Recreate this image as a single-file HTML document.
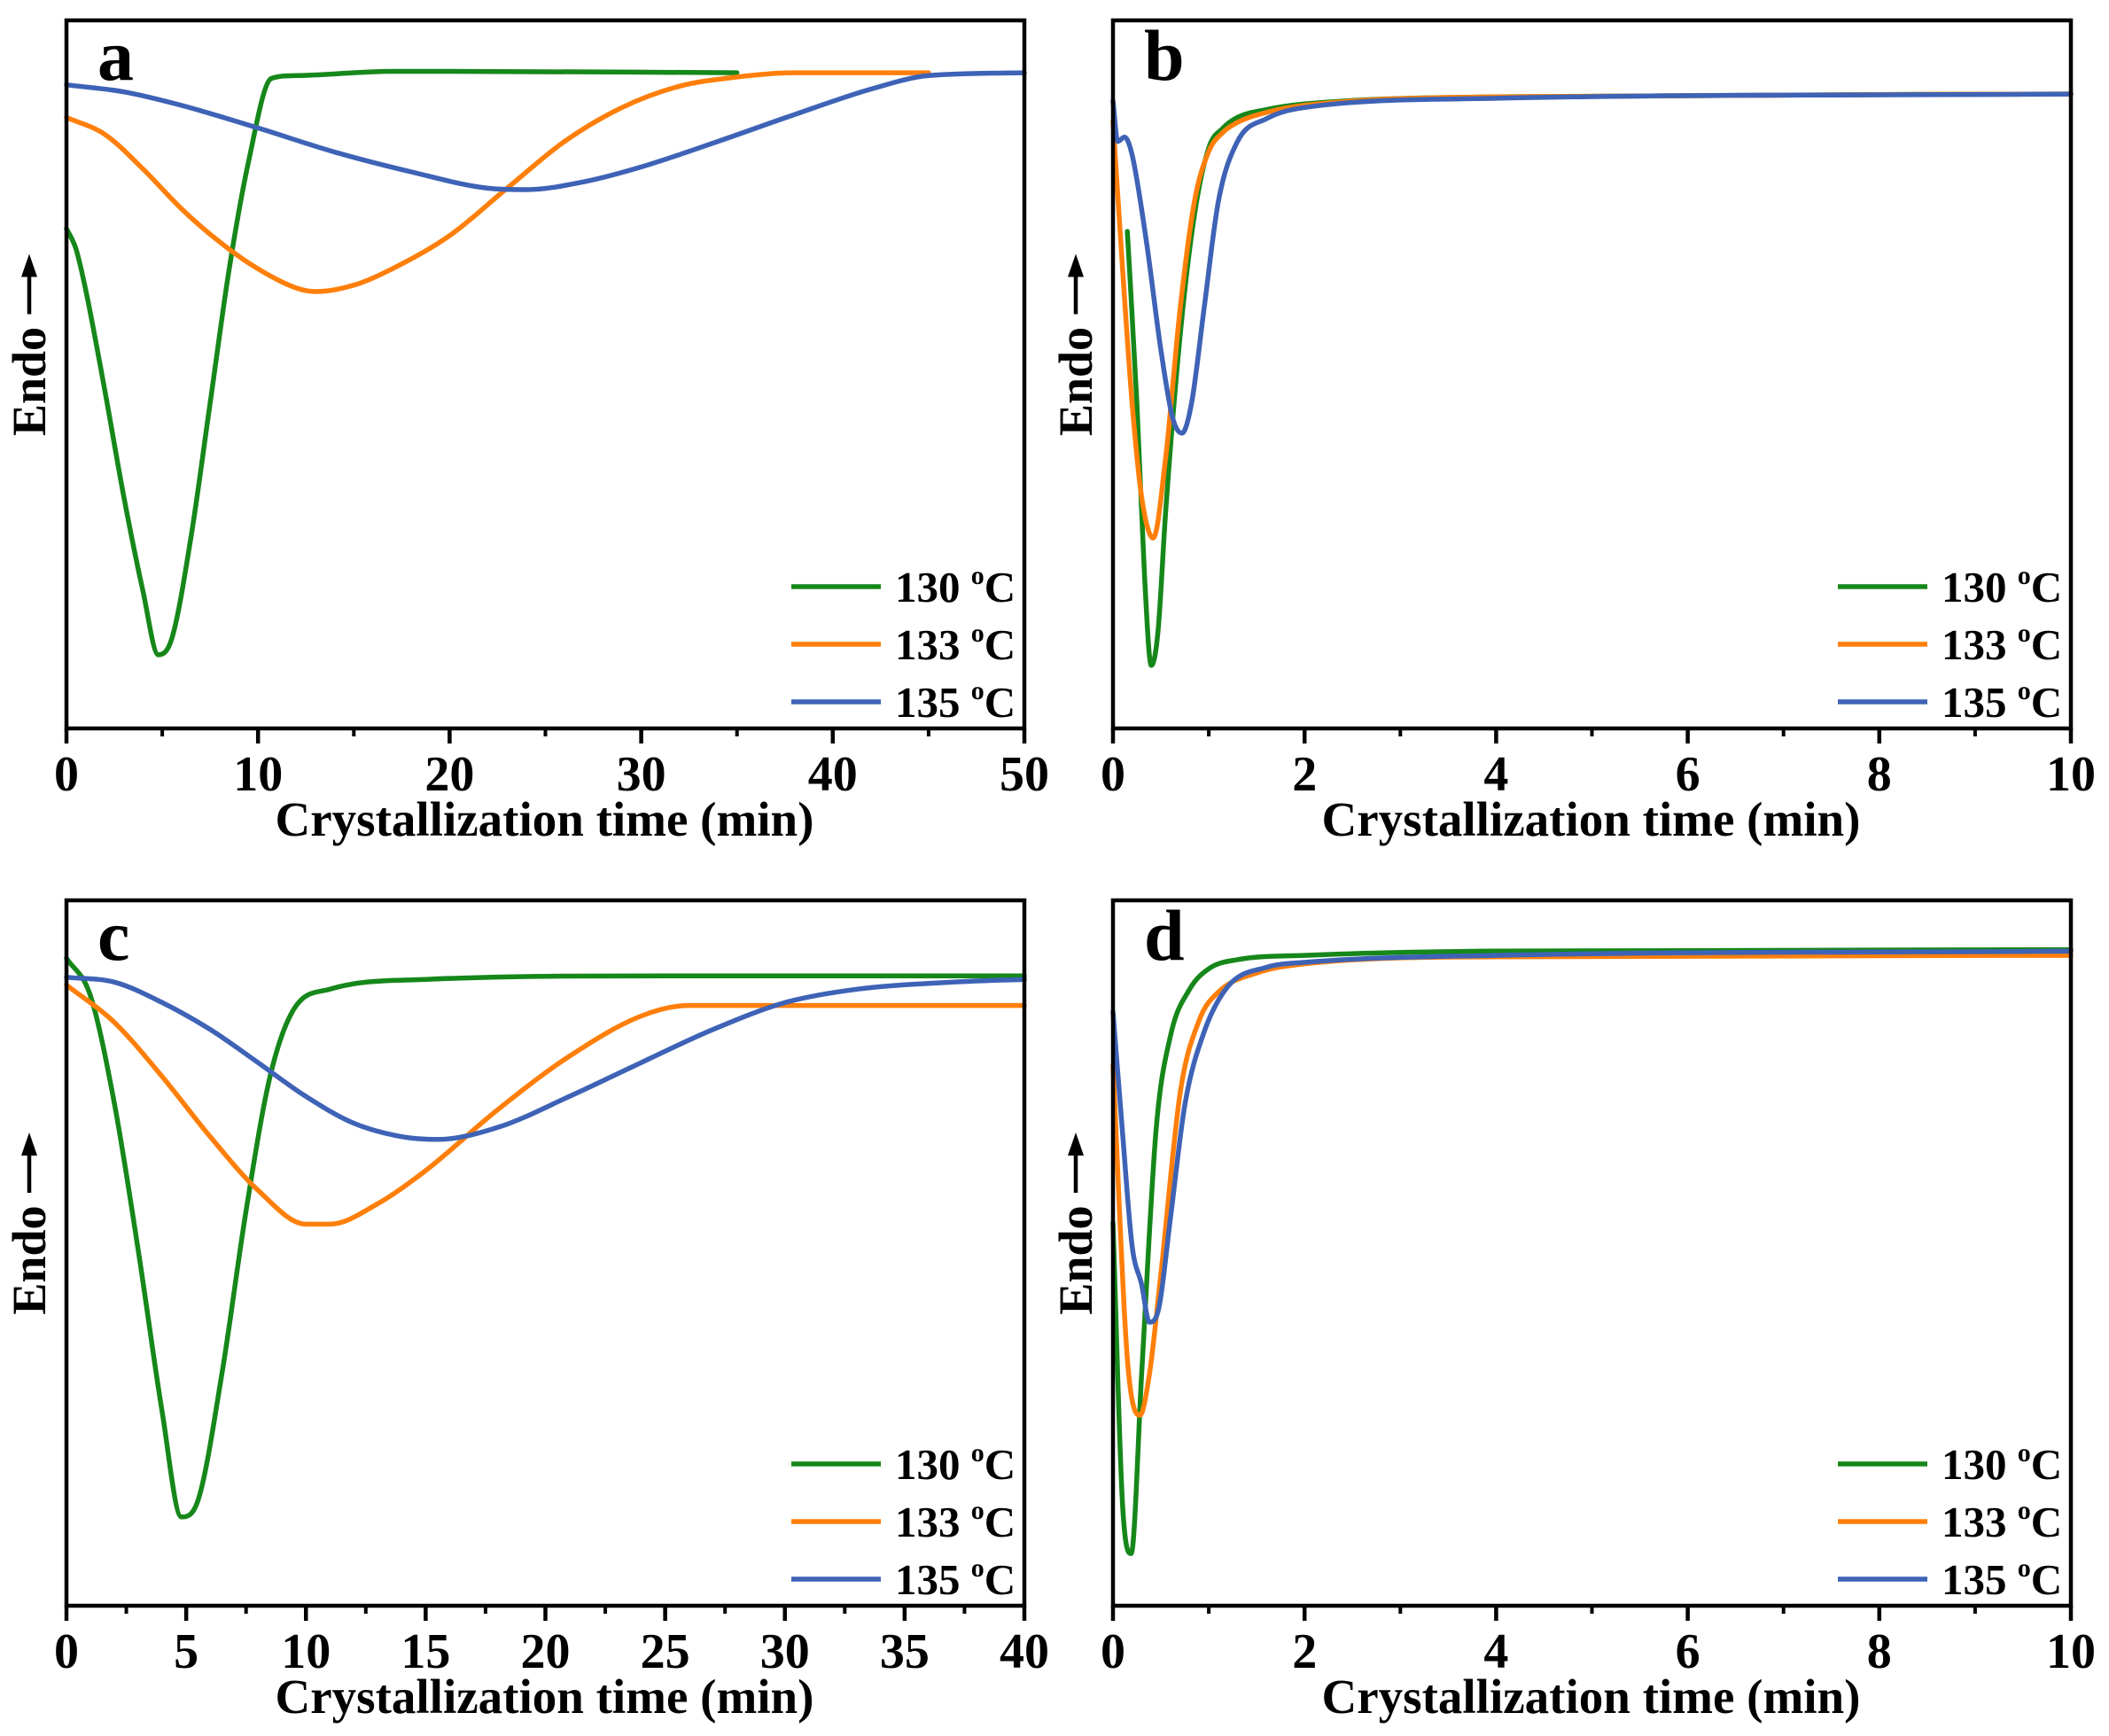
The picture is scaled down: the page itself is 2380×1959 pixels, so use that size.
<!DOCTYPE html>
<html><head><meta charset="utf-8">
<style>
html,body{margin:0;padding:0;background:#fff;}
svg{display:block;}
text{font-family:"Liberation Serif",serif;font-weight:bold;fill:#000;}
</style></head>
<body>
<svg id="fig" width="2380" height="1959" viewBox="0 0 2380 1959" xmlns="http://www.w3.org/2000/svg"></svg>
<script>
// ---- data (y in % of frame height, x in minutes) ----
const seriesLabels = ["130", "133", "135"];
const seriesColors = ["#16871a", "#ff7f0a", "#3e63b6"];

const aX130 = [0,0.5,1,2,3,4,4.8,5.5,6.5,7.5,8.5,9.5,10.7,12,17,20,35];
const aY130 = [70.6,67.7,62,47.8,32.6,19.3,10.4,12.7,27,46,65,80,91.8,92.2,92.8,92.8,92.6];
const aX133 = [0,2,4,6,8,10,12,13,15,17,20,23,26,29,32,35,38,45];
const aY133 = [86.3,83.9,79,73.4,68.7,64.9,62.2,61.7,62.6,64.9,69.6,76.3,82.9,87.7,90.7,92,92.6,92.6];
const aX135 = [0,3,6,10,14,18,22,24,27,30,34,38,42,45,50];
const aY135 = [90.9,89.9,88,84.8,81.4,78.6,76.3,76.1,77.2,79.3,82.9,86.7,90.3,92.2,92.6];

const bX130 = [0.15,0.25,0.33,0.4,0.47,0.55,0.7,0.85,1.0,1.15,1.3,1.6,2,4,10];
const bY130 = [70.2,45.9,21.3,8.9,13.7,30.7,55.4,72.5,82,84.8,86.3,87.4,88.2,89.2,89.6];
const bX133 = [0,0.1,0.2,0.3,0.42,0.55,0.7,0.85,1.0,1.15,1.3,1.6,2,4,10];
const bY133 = [85.8,64.9,45.9,32.6,26.9,38.3,59.2,74.4,81.5,84.2,85.6,87,88,89.2,89.6];
const bX135 = [0,0.05,0.12,0.2,0.35,0.5,0.62,0.72,0.82,0.95,1.1,1.3,1.6,2,4,10];
const bY135 = [88.6,82.9,83.5,81,68.7,53.5,44,41.7,45.9,59.2,74.4,82.9,86.1,87.7,89,89.6];

const cX130 = [0,1,2,3,4,4.8,5.5,6.5,7.5,8.5,9.5,11,15,25,40];
const cY130 = [91.8,86.5,71.2,50.3,27.4,12.6,15,33.1,56,75,84.6,87.4,88.8,89.3,89.3];
const cX133 = [0,2,4,6,8,10,11,13,15,18,21,24,26,40];
const cY133 = [88,82.7,75,66.5,58.9,54.1,54.1,57,61.7,70.3,77.9,83.6,85.1,85.1];
const cX135 = [0,2,4,6,8,10,12,14,15.5,18,21,24,27,30,33,37,40];
const cY135 = [89.1,88.4,85.5,81.7,77,72.2,68.4,66.5,66.1,67.8,72.2,77,81.7,85.5,87.4,88.4,88.8];

const dX130 = [0,0.1,0.19,0.3,0.45,0.6,0.8,1.0,1.3,2,4,10];
const dY130 = [54.3,14.3,7.4,33,67.4,80.8,87.4,90.3,91.6,92.2,92.8,93];
const dX133 = [0,0.15,0.28,0.38,0.5,0.7,0.9,1.1,1.5,2,4,10];
const dY133 = [76.6,35,27,32.8,47,72.6,83,87,89.7,91,92,92.2];
const dX135 = [0,0.1,0.2,0.3,0.38,0.48,0.6,0.75,0.95,1.2,1.6,2,4,10];
const dY135 = [84.2,67,51,45.5,40.2,42.3,55,71,81.3,87.8,90.5,91.2,92.2,92.8];

const ticksA = [0,10,20,30,40,50];
const ticksB = [0,2,4,6,8,10];
const ticksC = [0,5,10,15,20,25,30,35,40];

const NS = "http://www.w3.org/2000/svg";
const svg = document.getElementById("fig");
function el(tag, attrs, parent){
  const e = document.createElementNS(NS, tag);
  for (const k in attrs) e.setAttribute(k, attrs[k]);
  (parent||svg).appendChild(e);
  return e;
}

// monotone cubic path through screen points (x increasing)
function monoPath(P){
  const n = P.length;
  if (n < 3){ return P.map((p,i)=>(i?"L":"M")+p[0].toFixed(1)+" "+p[1].toFixed(1)).join(""); }
  const d = [], m = [];
  for (let i=0;i<n-1;i++) d.push((P[i+1][1]-P[i][1])/(P[i+1][0]-P[i][0]));
  m.push(d[0]);
  for (let i=1;i<n-1;i++){ m.push(d[i-1]*d[i] <= 0 ? 0 : (d[i-1]+d[i])/2); }
  m.push(d[n-2]);
  for (let i=0;i<n-1;i++){
    if (d[i] === 0){ m[i]=0; m[i+1]=0; continue; }
    const a = m[i]/d[i], b = m[i+1]/d[i], s = a*a+b*b;
    if (s > 9){ const t = 3/Math.sqrt(s); m[i]=t*a*d[i]; m[i+1]=t*b*d[i]; }
  }
  let s = "M"+P[0][0].toFixed(1)+" "+P[0][1].toFixed(1);
  for (let i=0;i<n-1;i++){
    const h = (P[i+1][0]-P[i][0])/3;
    s += "C"+(P[i][0]+h).toFixed(1)+" "+(P[i][1]+m[i]*h).toFixed(1)+" "+(P[i+1][0]-h).toFixed(1)+" "+(P[i+1][1]-m[i+1]*h).toFixed(1)+" "+P[i+1][0].toFixed(1)+" "+P[i+1][1].toFixed(1);
  }
  return s;
}

function panel(cfg){
  const {id,L,R,T,B,xmax,ticks,minorStep,xs,ys} = cfg;
  const g = el("g", {});
  
  
  const sx = v => L + (v / xmax) * (R - L);
  const sy = v => B - (v / 100) * (B - T);
  for (let s = 0; s < 3; s++){
    const pts = xs[s].map((x,i)=>[sx(x), sy(ys[s][i])]);
    const p = el("path", {d:monoPath(pts), fill:"none", stroke:seriesColors[s], "stroke-width":5.5, "stroke-linejoin":"round", "stroke-linecap":"round"}, g);
    
    
  }
  const fr = el("rect", {x:L, y:T, width:R-L, height:B-T, fill:"none", stroke:"#000", "stroke-width":4.5}, g);
  
  
  for (let v = 0; v <= xmax + 1e-9; v += minorStep){
    const t = el("line", {x1:sx(v), x2:sx(v), y1:B, y2:B+9, stroke:"#000", "stroke-width":4}, g);
    
    
  }
  ticks.forEach(v => {
    const t = el("line", {x1:sx(v), x2:sx(v), y1:B, y2:B+17, stroke:"#000", "stroke-width":4.5}, g);
    
    
    const lb = el("text", {x:sx(v), y:B+70, "font-size":56, "text-anchor":"middle"}, g);
    lb.textContent = String(v);
    
    
  });
  const xt = el("text", {x:(L+R)/2 - 1, y:B+121, "font-size":55, "text-anchor":"middle"}, g);
  xt.textContent = "Crystallization time (min)";
  
  
  const cy = T + 0.485*(B-T);
  const yt = el("text", {x:0, y:0, "font-size":54, "text-anchor":"middle", transform:`translate(${L-24},${cy+20}) rotate(-90)`}, g);
  yt.textContent = "Endo";
  
  
  const ay = el("path", {d:`M${L-42} ${cy-56} L${L-42} ${cy-108}`, stroke:"#000", "stroke-width":4.5, fill:"none"}, g);
  
  
  const ah = el("path", {d:`M${L-51} ${cy-98} L${L-42} ${cy-124} L${L-33} ${cy-98} Z`, fill:"#000"}, g);
  
  
  const pl = el("text", {x:L+35, y:T+67, "font-size":82}, g);
  pl.textContent = id;
  
  
  for (let s = 0; s < 3; s++){
    const ly = B - 160 + s*65;
    const ll = el("line", {x1:R-263, x2:R-162, y1:ly, y2:ly, stroke:seriesColors[s], "stroke-width":5.5}, g);
    
    
    const lt = el("text", {x:R-146, y:ly+17, "font-size":49}, g);
    
    
    const t1 = el("tspan", {}, lt); t1.textContent = seriesLabels[s] + " ";
    const t2 = el("tspan", {"font-size":30, dy:-20}, lt); t2.textContent = "o";
    const t3 = el("tspan", {dy:20}, lt); t3.textContent = "C";
  }
}

panel({id:"a", L:75, R:1156, T:23, B:822, xmax:50, ticks:ticksA, minorStep:5, xs:[aX130,aX133,aX135], ys:[aY130,aY133,aY135]});
panel({id:"b", L:1256, R:2337, T:23, B:822, xmax:10, ticks:ticksB, minorStep:1, xs:[bX130,bX133,bX135], ys:[bY130,bY133,bY135]});
panel({id:"c", L:75, R:1156, T:1016, B:1812, xmax:40, ticks:ticksC, minorStep:2.5, xs:[cX130,cX133,cX135], ys:[cY130,cY133,cY135]});
panel({id:"d", L:1256, R:2337, T:1016, B:1812, xmax:10, ticks:ticksB, minorStep:1, xs:[dX130,dX133,dX135], ys:[dY130,dY133,dY135]});
</script>
</body></html>
